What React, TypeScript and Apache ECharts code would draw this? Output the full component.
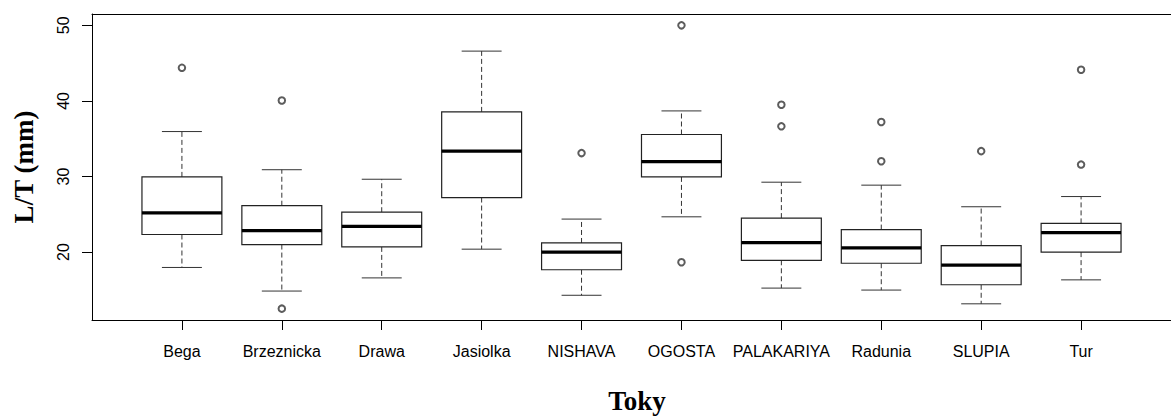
import React, { useEffect, useRef } from "react";
import * as echarts from "echarts";

const categories = ["Bega", "Brzeznicka", "Drawa", "Jasiolka", "NISHAVA", "OGOSTA", "PALAKARIYA", "Radunia", "SLUPIA", "Tur"];
// [lower whisker, Q1, median, Q3, upper whisker]
const lowerWhisker = [17.97, 14.85, 16.59, 20.39, 14.29, 24.67, 15.24, 14.98, 13.16, 16.33];
const q1Values = [22.33, 21.0, 20.69, 27.22, 17.67, 29.95, 18.92, 18.53, 15.68, 20.0];
const medianValues = [25.19, 22.85, 23.41, 33.36, 20.0, 31.97, 21.26, 20.56, 18.27, 22.59];
const q3Values = [29.95, 26.14, 25.28, 38.55, 21.21, 35.56, 24.5, 22.98, 20.87, 23.8];
const upperWhisker = [35.95, 30.9, 29.64, 46.59, 24.37, 38.68, 29.25, 28.86, 26.0, 27.35];
// outliers: [category index (1-based), value]
const outlierGroup = [1, 2, 2, 5, 6, 6, 7, 7, 8, 8, 9, 10, 10];
const outlierValues = [44.38, 40.06, 12.52, 33.1, 50.0, 18.66, 39.5, 36.64, 37.21, 32.02, 33.36, 44.12, 31.58];
const yTicks = [20, 30, 40, 50];

const SANS = "'Liberation Sans', Arial, sans-serif";
const SERIF = "'Liberation Serif', 'Times New Roman', serif";

export default function App() {
  const ref = useRef<HTMLDivElement>(null);
  useEffect(() => {
    document.body.style.margin = "0";
    if (!ref.current) return;
    const chart = echarts.init(ref.current, null, { renderer: "svg" });
    const boxData = categories.map((_, i) => [i + 1, lowerWhisker[i], q1Values[i], medianValues[i], q3Values[i], upperWhisker[i]]);
    const outData = outlierGroup.map((g, i) => [g, outlierValues[i]]);
    const positions = categories.map((_, i) => i + 1);
    const lineColor = "#222";
    const whiskerColor = "#333";
    chart.setOption({
      animation: false,
      grid: { left: 92, top: 14, width: 1087, height: 312, containLabel: false },
      xAxis: [
        {
          type: "value",
          min: 0.1,
          max: 10.9,
          position: "bottom",
          axisLine: { show: true, onZero: false, lineStyle: { color: "#000", width: 1 } },
          axisTick: { show: true, length: 10, customValues: positions, lineStyle: { color: "#000" } },
          axisLabel: {
            show: true,
            customValues: positions,
            formatter: (v: number) => categories[Math.round(v) - 1] ?? "",
            margin: 23,
            fontFamily: SANS,
            fontSize: 16,
            color: "#000",
          },
          splitLine: { show: false },
          name: "Toky",
          nameLocation: "middle",
          nameGap: 67,
          nameTextStyle: { fontFamily: SERIF, fontWeight: "bold", fontSize: 27, color: "#000", padding: [0, 0, 0, 11] },
        },
        {
          type: "value",
          min: 0.1,
          max: 10.9,
          position: "top",
          axisLine: { show: true, onZero: false, lineStyle: { color: "#000", width: 1 } },
          axisTick: { show: false },
          axisLabel: { show: false },
          splitLine: { show: false },
        },
      ],
      yAxis: {
        type: "value",
        min: 11.02,
        max: 51.5,
        axisLine: { show: true, onZero: false, lineStyle: { color: "#000", width: 1 } },
        axisTick: { show: true, length: 10, customValues: yTicks, lineStyle: { color: "#000" } },
        axisLabel: {
          show: true,
          customValues: yTicks,
          rotate: 90,
          margin: 21,
          fontFamily: SANS,
          fontSize: 16,
          color: "#000",
        },
        splitLine: { show: false },
        name: "L/T (mm)",
        nameLocation: "middle",
        nameRotate: 90,
        nameGap: 55,
        nameTextStyle: { fontFamily: SERIF, fontWeight: "bold", fontSize: 27, color: "#000" },
      },
      series: [
        {
          type: "custom",
          xAxisIndex: 0,
          data: boxData,
          encode: { x: 0, y: [1, 2, 3, 4, 5] },
          renderItem: (params: any, api: any) => {
            const x = api.value(0);
            const lo = api.coord([x, api.value(1)]);
            const q1 = api.coord([x, api.value(2)]);
            const med = api.coord([x, api.value(3)]);
            const q3 = api.coord([x, api.value(4)]);
            const hi = api.coord([x, api.value(5)]);
            const bw = api.size([0.8, 0])[0];
            const cw = api.size([0.4, 0])[0];
            const cx = lo[0];
            const dashed = { stroke: whiskerColor, lineWidth: 1, lineDash: [5, 3], fill: null };
            const solid = { stroke: whiskerColor, lineWidth: 1, fill: null };
            return {
              type: "group",
              children: [
                { type: "line", shape: { x1: cx, y1: q3[1], x2: cx, y2: hi[1] }, style: dashed },
                { type: "line", shape: { x1: cx, y1: q1[1], x2: cx, y2: lo[1] }, style: dashed },
                { type: "line", shape: { x1: cx - cw / 2, y1: hi[1], x2: cx + cw / 2, y2: hi[1] }, style: solid },
                { type: "line", shape: { x1: cx - cw / 2, y1: lo[1], x2: cx + cw / 2, y2: lo[1] }, style: solid },
                {
                  type: "rect",
                  shape: { x: cx - bw / 2, y: q3[1], width: bw, height: q1[1] - q3[1] },
                  style: { stroke: lineColor, lineWidth: 1.2, fill: "#fff" },
                },
                {
                  type: "line",
                  shape: { x1: cx - bw / 2, y1: med[1], x2: cx + bw / 2, y2: med[1] },
                  style: { stroke: "#000", lineWidth: 3.2, fill: null },
                },
              ],
            };
          },
        },
        {
          type: "scatter",
          xAxisIndex: 0,
          data: outData,
          symbol: "emptyCircle",
          symbolSize: 6.5,
          itemStyle: { color: "#333", borderColor: "#333", borderWidth: 1 },
        },
      ],
    });
    return () => chart.dispose();
  }, []);
  return <div ref={ref} style={{ width: 1171, height: 419 }} />;
}
